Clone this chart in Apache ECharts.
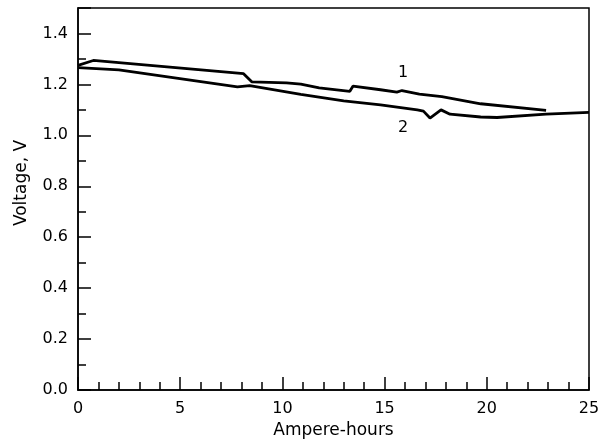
<!DOCTYPE html>
<html><head><meta charset="utf-8">
<script src="https://cdn.jsdelivr.net/npm/echarts@6/dist/echarts.min.js"></script>
<style>html,body{margin:0;padding:0;background:#fff}#c{width:603px;height:444px}</style>
</head><body><div id="c"></div>
<script>
const x1 = [0, 0.75, 8.1, 8.5, 10.2, 10.9, 11.8, 13.3, 13.45, 14.8, 15.6, 15.85, 16.7, 17.8, 19.7, 22.9];
const y1 = [1.275, 1.294, 1.242, 1.21, 1.206, 1.201, 1.186, 1.173, 1.193, 1.179, 1.17, 1.176, 1.162, 1.152, 1.124, 1.098];
const x2 = [0, 2.0, 7.8, 8.4, 10.9, 13.0, 14.8, 16.6, 16.9, 17.22, 17.76, 18.2, 19.7, 20.5, 22.9, 25];
const y2 = [1.266, 1.257, 1.19, 1.195, 1.161, 1.135, 1.12, 1.10, 1.095, 1.068, 1.10, 1.083, 1.072, 1.07, 1.083, 1.09];
const curveLabels = [{name: '1', x: 15.9, y: 1.244}, {name: '2', x: 15.9, y: 1.029}];
const xTitle = 'Ampere-hours';
const yTitle = 'Voltage, V';

const font = 'DejaVu Sans, Liberation Sans, Arial, sans-serif';
const chart = echarts.init(document.getElementById('c'));
const pair = (xs, ys) => xs.map((v, i) => [v, ys[i]]);
const lineStyle = {color: '#000', width: 2.8};
chart.setOption({
  animation: false,
  grid: {left: 78, right: 14, top: 8, bottom: 53, show: true, borderColor: '#000', borderWidth: 1.5},
  xAxis: {
    type: 'value', min: 0, max: 25, interval: 5,
    name: xTitle, nameLocation: 'middle', nameGap: 32,
    nameTextStyle: {fontFamily: font, fontSize: 17, color: '#000'},
    axisLine: {lineStyle: {color: '#000', width: 1.5}},
    axisTick: {inside: true, length: 13, lineStyle: {color: '#000', width: 1.5}},
    minorTick: {show: true, splitNumber: 5, length: 8, lineStyle: {color: '#000', width: 1.5}},
    axisLabel: {fontFamily: font, fontSize: 16, color: '#000', margin: 11},
    splitLine: {show: false}
  },
  yAxis: [{
    type: 'value', min: 0, max: 1.5, interval: 0.1,
    name: yTitle, nameLocation: 'middle', nameGap: 48,
    nameTextStyle: {fontFamily: font, fontSize: 17, color: '#000', padding: [0, 0, 0, 32]},
    axisLine: {lineStyle: {color: '#000', width: 1.5}},
    axisTick: {inside: true, length: 8, lineStyle: {color: '#000', width: 1.5}},
    axisLabel: {fontFamily: font, fontSize: 16, color: '#000', margin: 10,
      formatter: v => (Math.round(v * 10) % 2 === 0 && v < 1.45) ? v.toFixed(1) : ''},
    splitLine: {show: false}
  }, {
    type: 'value', min: 0, max: 1.5, interval: 0.2, position: 'left',
    axisLine: {show: false},
    axisTick: {inside: true, length: 13, lineStyle: {color: '#000', width: 1.5}},
    axisLabel: {show: false},
    splitLine: {show: false}
  }],
  series: [{
    type: 'line', data: pair(x1, y1), showSymbol: false, lineStyle, itemStyle: {color: '#000'},
    markPoint: {
      symbol: 'circle', symbolSize: 1, itemStyle: {color: 'transparent'},
      label: {show: true, position: 'inside', formatter: p => p.name, fontFamily: font, fontSize: 16, color: '#000'},
      data: curveLabels.map(l => ({name: l.name, coord: [l.x, l.y]}))
    }
  }, {
    type: 'line', data: pair(x2, y2), showSymbol: false, lineStyle, itemStyle: {color: '#000'}
  }]
});
</script></body></html>
